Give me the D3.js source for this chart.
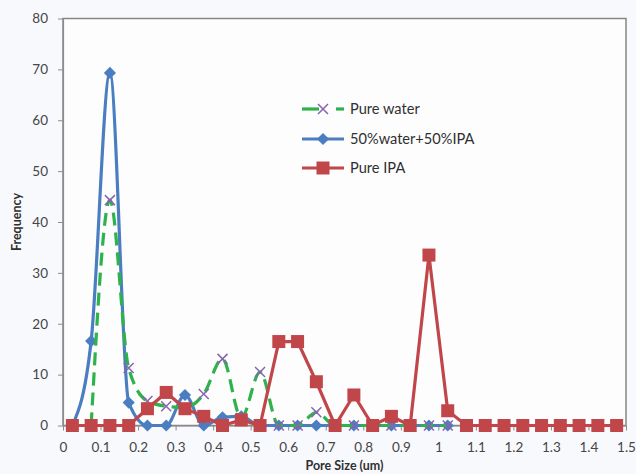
<!DOCTYPE html>
<html>
<head>
<meta charset="utf-8">
<script src="https://cdn.jsdelivr.net/npm/d3@7"></script>
<style>
  html, body { margin: 0; padding: 0; background: #f8f9fc; }
  svg { display: block; }
  text { font-family: Lato, "Open Sans", sans-serif; }
</style>
</head>
<body>
<svg id="chart" width="636" height="474"></svg>
<script>
// Pore size bin centres (um)
const poreSize = [0.025, 0.075, 0.125, 0.175, 0.225, 0.275, 0.325, 0.375, 0.425, 0.475,
                  0.525, 0.575, 0.625, 0.675, 0.725, 0.775, 0.825, 0.875, 0.925, 0.975,
                  1.025, 1.075, 1.125, 1.175, 1.225, 1.275, 1.325, 1.375, 1.425, 1.475];

// Frequency per bin for each solvent (null = no measurement in that bin)
const pureWater = [null, 0, 44.3, 11.3, 4.8, 3.8, 3.5, 6.2, 13.1, 1.5,
                   10.5, 0, 0, 2.6, 0, 0, 0, 0, 0, 0, 0];
const waterIPA  = [0, 16.6, 69.3, 4.5, 0, 0, 6, 0, 1.6, 1.8,
                   0, 0, 0, 0, 0, 0, 0, 0, 0, 0, 0];
const pureIPA   = [0, 0, 0, 0, 3.3, 6.5, 3.3, 1.8, 0, 1.1,
                   0, 16.5, 16.5, 8.6, 0, 6, 0, 1.8, 0, 33.5,
                   2.9, 0, 0, 0, 0, 0, 0, 0, 0, 0];

const seriesNames = ["Pure water", "50%water+50%IPA", "Pure IPA"];
const xTicks = [0, 0.1, 0.2, 0.3, 0.4, 0.5, 0.6, 0.7, 0.8, 0.9, 1, 1.1, 1.2, 1.3, 1.4, 1.5];
const yTicks = [0, 10, 20, 30, 40, 50, 60, 70, 80];

const svg = d3.select("#chart");
const plot = { left: 63, right: 626, top: 18.5, bottom: 425.5 };

const x = d3.scaleLinear().domain([0, 1.5]).range([plot.left, plot.right]);
const y = d3.scaleLinear().domain([0, 80]).range([plot.bottom, plot.top]);

const colors = { water: "#2eb34a", mix: "#4a7ec0", ipa: "#c0464a", xMark: "#8a62b0" };

// plot area
svg.append("rect")
  .attr("x", plot.left).attr("y", plot.top)
  .attr("width", plot.right - plot.left).attr("height", plot.bottom - plot.top)
  .attr("fill", "#fdfdfe").attr("stroke", "#868686").attr("stroke-width", 1.5);

// axes
const axisColor = "#8c8c8c";
const yAxis = svg.append("g")
  .attr("transform", `translate(${plot.left},0)`)
  .call(d3.axisLeft(y).tickValues(yTicks).tickSize(5).tickSizeOuter(0).tickPadding(10).tickFormat(d3.format("d")));
const xAxis = svg.append("g")
  .attr("transform", `translate(0,${plot.bottom})`)
  .call(d3.axisBottom(x).tickValues(xTicks).tickSize(5).tickSizeOuter(0).tickPadding(12).tickFormat(d => String(d)));
[xAxis, yAxis].forEach(g => {
  g.select(".domain").attr("stroke", axisColor).attr("stroke-width", 1.2);
  g.selectAll(".tick line").attr("stroke", axisColor);
  g.selectAll(".tick text").attr("fill", "#454545").style("font-size", "13.5px")
    .style("font-family", "Lato, sans-serif");
});

// axis titles
svg.append("text")
  .attr("x", (plot.left + plot.right) / 2).attr("y", 470)
  .attr("text-anchor", "middle").attr("fill", "#303030")
  .style("font-size", "12.5px").style("font-weight", "bold")
  .text("Pore Size (um)");
svg.append("text")
  .attr("transform", `translate(21,${(plot.top + plot.bottom) / 2}) rotate(-90)`)
  .attr("text-anchor", "middle").attr("fill", "#303030")
  .style("font-size", "12.5px").style("font-weight", "bold")
  .text("Frequency");

const pts = vals => vals.map((v, i) => [poreSize[i], v]).filter(d => d[1] !== null);
const smooth = d3.line().x(d => x(d[0])).y(d => y(d[1])).curve(d3.curveMonotoneX);
const straight = d3.line().x(d => x(d[0])).y(d => y(d[1]));

const g = svg.append("g");

// 50% water + 50% IPA: smoothed blue line with diamonds
g.append("path").attr("d", smooth(pts(waterIPA)))
  .attr("fill", "none").attr("stroke", colors.mix).attr("stroke-width", 3.2);
g.selectAll(".dia").data(pts(waterIPA)).join("path")
  .attr("transform", d => `translate(${x(d[0])},${y(d[1])}) rotate(45)`)
  .attr("d", "M-4.3,-4.3H4.3V4.3H-4.3Z").attr("fill", colors.mix);

// Pure water: smoothed dashed green line with X markers
g.append("path").attr("d", smooth(pts(pureWater)))
  .attr("fill", "none").attr("stroke", colors.water).attr("stroke-width", 3.2)
  .attr("stroke-dasharray", "13,7");
g.selectAll(".xm").data(pts(pureWater)).join("path")
  .attr("transform", d => `translate(${x(d[0])},${y(d[1])})`)
  .attr("d", "M-5,-5L5,5M-5,5L5,-5").attr("stroke", colors.xMark).attr("stroke-width", 1.5);

// Pure IPA: straight red line with squares
g.append("path").attr("d", straight(pts(pureIPA)))
  .attr("fill", "none").attr("stroke", colors.ipa).attr("stroke-width", 3.2);
g.selectAll(".sq").data(pts(pureIPA)).join("rect")
  .attr("x", d => x(d[0]) - 6.5).attr("y", d => y(d[1]) - 6.5)
  .attr("width", 13).attr("height", 13).attr("fill", colors.ipa);

// legend
const legend = svg.append("g");
const legY = [109, 139, 168];
const lx0 = 302, lx1 = 344, lxm = 323;
// pure water entry
legend.append("line").attr("x1", lx0).attr("x2", 319).attr("y1", legY[0]).attr("y2", legY[0])
  .attr("stroke", colors.water).attr("stroke-width", 3.2);
legend.append("line").attr("x1", 336).attr("x2", lx1).attr("y1", legY[0]).attr("y2", legY[0])
  .attr("stroke", colors.water).attr("stroke-width", 3.2);
legend.append("path").attr("transform", `translate(${lxm},${legY[0]})`)
  .attr("d", "M-5,-5L5,5M-5,5L5,-5").attr("stroke", colors.xMark).attr("stroke-width", 1.5);
// mix entry
legend.append("line").attr("x1", lx0).attr("x2", lx1).attr("y1", legY[1]).attr("y2", legY[1])
  .attr("stroke", colors.mix).attr("stroke-width", 3.2);
legend.append("path").attr("transform", `translate(${lxm},${legY[1]}) rotate(45)`)
  .attr("d", "M-4.3,-4.3H4.3V4.3H-4.3Z").attr("fill", colors.mix);
// IPA entry
legend.append("line").attr("x1", lx0).attr("x2", lx1).attr("y1", legY[2]).attr("y2", legY[2])
  .attr("stroke", colors.ipa).attr("stroke-width", 3.2);
legend.append("rect").attr("x", lxm - 6.5).attr("y", legY[2] - 6.5)
  .attr("width", 13).attr("height", 13).attr("fill", colors.ipa);

legend.selectAll(".lt").data(seriesNames).join("text")
  .attr("x", 350).attr("y", (d, i) => legY[i] + 5)
  .attr("fill", "#303030").style("font-size", "14.6px")
  .text(d => d);
</script>
</body>
</html>
